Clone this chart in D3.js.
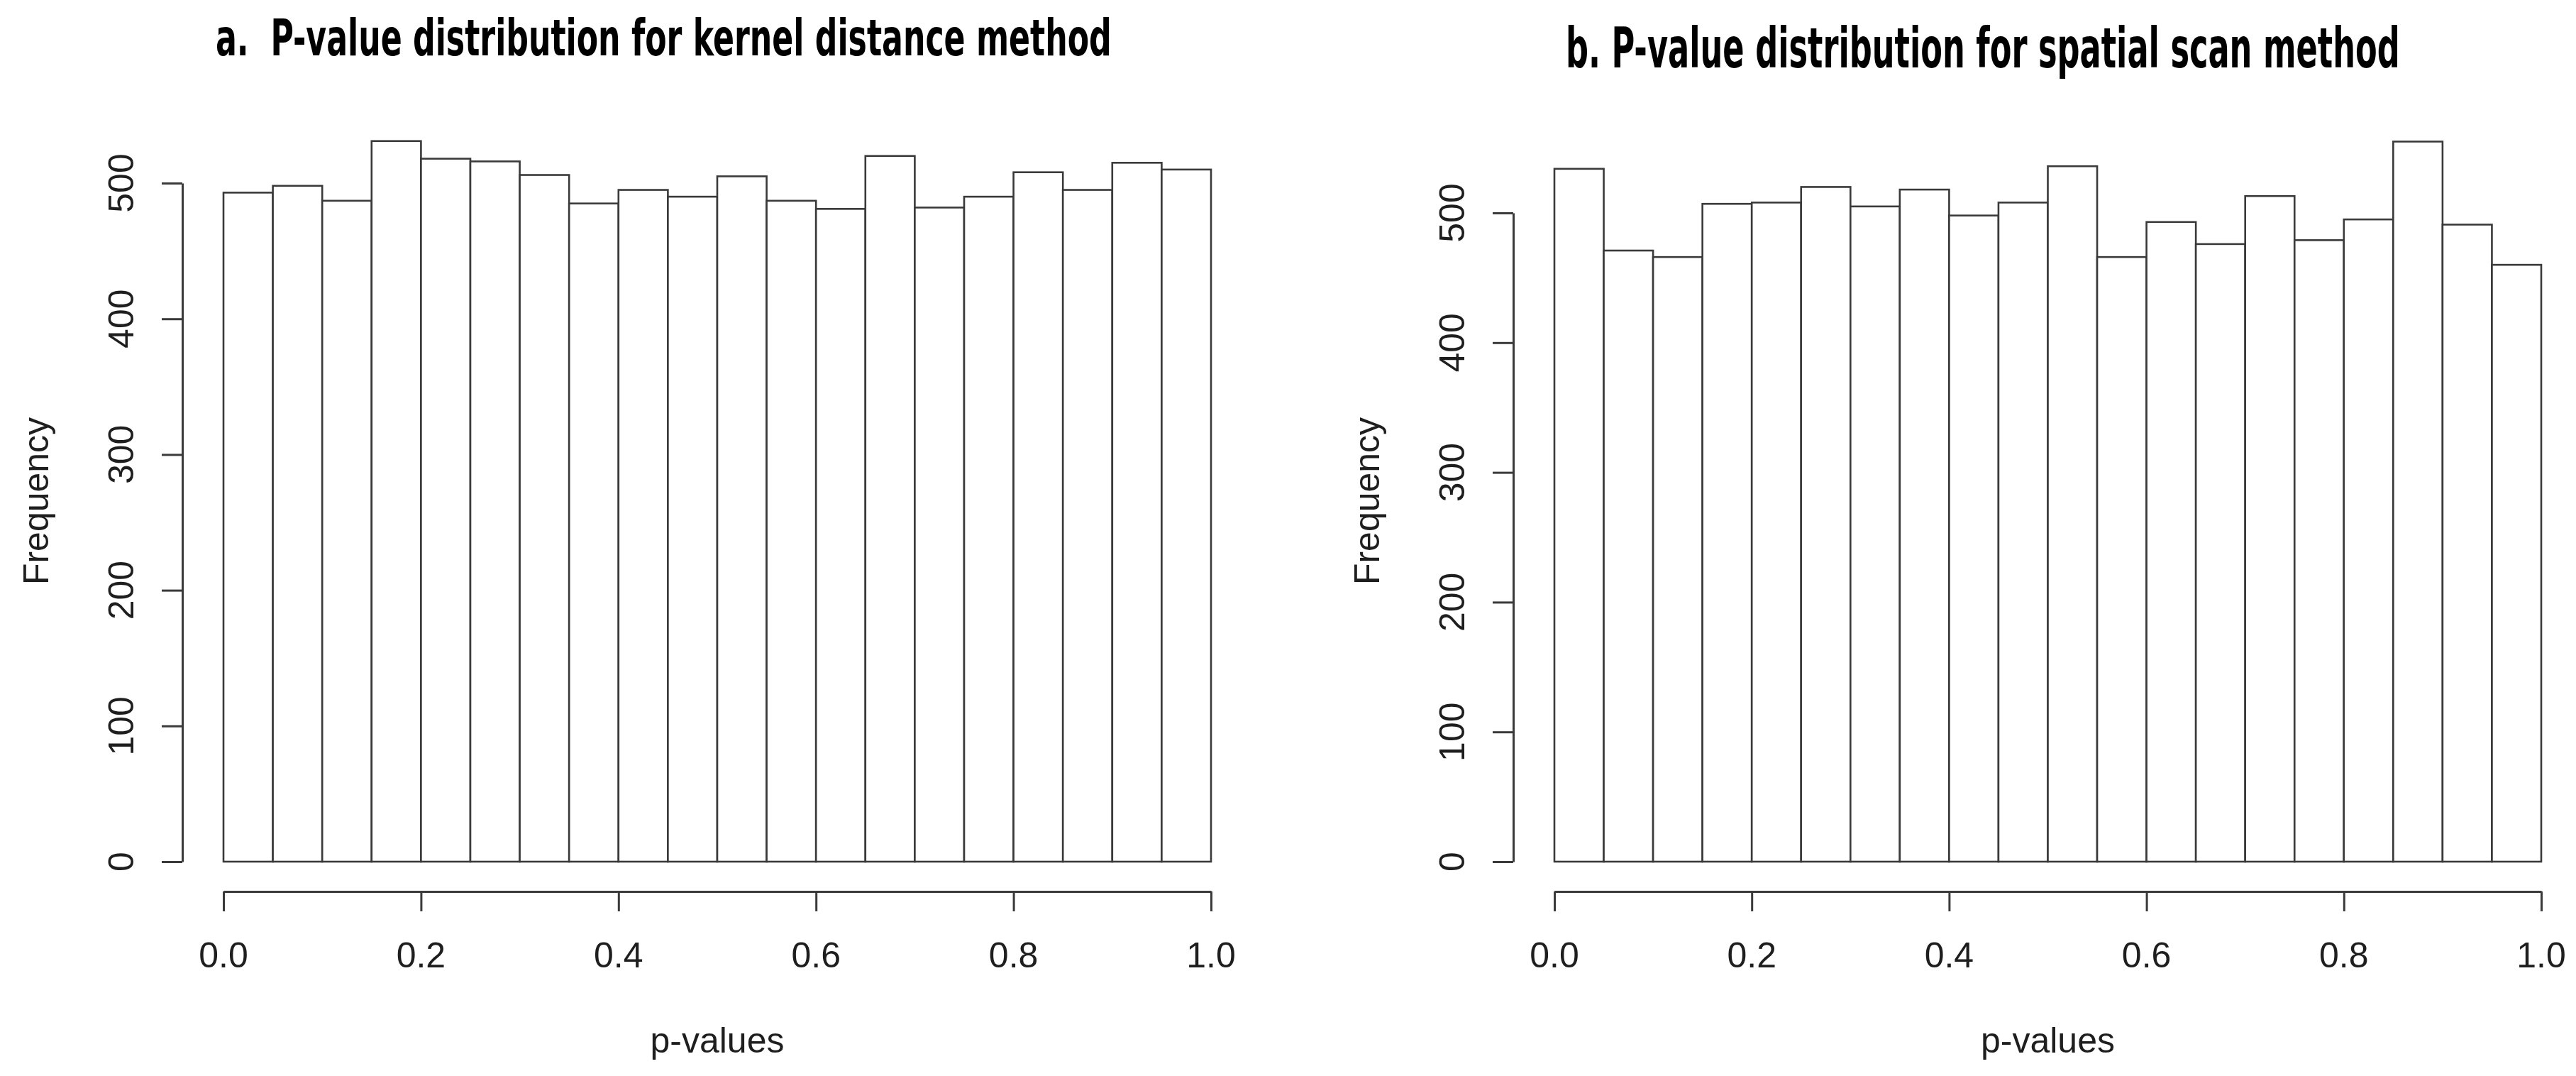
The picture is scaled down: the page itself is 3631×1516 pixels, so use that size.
<!DOCTYPE html>
<html>
<head>
<meta charset="utf-8">
<script src="https://cdn.jsdelivr.net/npm/d3@7"></script>
<style>
  html, body { margin: 0; padding: 0; background: #ffffff; }
  svg { display: block; }
  .title { white-space: pre; }
</style>
</head>
<body>
<svg id="chart" width="3631" height="1516"></svg>
<script>
// ---- data ----
const binEdges = [0.00, 0.05, 0.10, 0.15, 0.20, 0.25, 0.30, 0.35, 0.40, 0.45, 0.50,
                  0.55, 0.60, 0.65, 0.70, 0.75, 0.80, 0.85, 0.90, 0.95, 1.00];
const kernelCounts = [493, 498, 487, 531, 518, 516, 506, 485, 495, 490,
                      505, 487, 481, 520, 482, 490, 508, 495, 515, 510];
const scanCounts   = [534, 471, 466, 507, 508, 520, 505, 518, 498, 508,
                      536, 466, 493, 476, 513, 479, 495, 555, 491, 460];
const xTicks = [0.0, 0.2, 0.4, 0.6, 0.8, 1.0];
const yTicks = [0, 100, 200, 300, 400, 500];
const titleA = "a.  P-value distribution for kernel distance method";
const titleB = "b. P-value distribution for spatial scan method";
const xLabel = "p-values";
const yLabel = "Frequency";

// ---- drawing ----
const svg = d3.select("#chart");
const lineColor = "#3a3a3a";
const textColor = "#1e1e1e";
const font = "'Liberation Sans', Arial, Helvetica, sans-serif";

function panel(opts) {
  const g = svg.append("g");
  const x = d3.scaleLinear().domain([0, 1]).range([opts.x0, opts.x1]);
  const y = d3.scaleLinear().domain([0, 500]).range([opts.yBase, opts.y500]);

  const bars = opts.counts.map((c, i) => ({ lo: binEdges[i], hi: binEdges[i + 1], c }));
  g.append("g").selectAll("rect").data(bars).join("rect")
    .attr("x", d => x(d.lo))
    .attr("y", d => y(d.c))
    .attr("width", d => x(d.hi) - x(d.lo))
    .attr("height", d => y(0) - y(d.c))
    .attr("fill", "#ffffff")
    .attr("stroke", lineColor)
    .attr("stroke-width", 2.6);

  // x axis (detached below, R style)
  const xa = g.append("g")
    .attr("transform", `translate(0,${opts.xAxisY})`)
    .call(d3.axisBottom(x).tickValues(xTicks).tickSize(28).tickSizeOuter(0).tickFormat(""));
  xa.select(".domain").attr("stroke", lineColor).attr("stroke-width", 3);
  xa.selectAll(".tick line").attr("stroke", lineColor).attr("stroke-width", 3);
  g.append("g").selectAll("text").data(xTicks).join("text")
    .attr("x", d => x(d))
    .attr("y", opts.xAxisY + 107)
    .attr("text-anchor", "middle")
    .attr("font-family", font)
    .attr("font-size", 50)
    .attr("fill", textColor)
    .text(d => d3.format(".1f")(d));

  // y axis (detached left)
  const ya = g.append("g")
    .attr("transform", `translate(${opts.yAxisX},0)`)
    .call(d3.axisLeft(y).tickValues(yTicks).tickSize(29).tickSizeOuter(0).tickFormat(""));
  ya.select(".domain").attr("stroke", lineColor).attr("stroke-width", 3);
  ya.selectAll(".tick line").attr("stroke", lineColor).attr("stroke-width", 3);
  g.append("g").selectAll("text").data(yTicks).join("text")
    .attr("transform", d => `translate(${opts.yAxisX - 69},${y(d)}) rotate(-90)`)
    .attr("text-anchor", "middle")
    .attr("font-family", font)
    .attr("font-size", 50)
    .attr("fill", textColor)
    .text(d => d);

  // axis titles
  g.append("text")
    .attr("x", (opts.x0 + opts.x1) / 2)
    .attr("y", 1483)
    .attr("text-anchor", "middle")
    .attr("font-family", font)
    .attr("font-size", 50)
    .attr("fill", textColor)
    .text(xLabel);
  g.append("text")
    .attr("transform", `translate(${opts.yAxisX - 189},706) rotate(-90)`)
    .attr("text-anchor", "middle")
    .attr("font-family", font)
    .attr("font-size", 50)
    .attr("fill", textColor)
    .text(yLabel);

  // panel title: condensed by a horizontal scale so the box fits the target width
  const t = g.append("text")
    .attr("class", "title")
    .attr("x", 0)
    .attr("y", 0)
    .attr("font-family", "'DejaVu Sans Condensed', 'DejaVu Sans', 'Liberation Sans', sans-serif")
    .attr("font-weight", "bold")
    .attr("font-size", opts.tsize)
    .attr("fill", "#000000")
    .text(opts.title);
  const natural = t.node().getComputedTextLength();
  const sx = opts.tlen / natural;
  t.attr("transform", `translate(${opts.tx},${opts.ty}) scale(${sx},1)`);
}

panel({
  counts: kernelCounts, title: titleA,
  x0: 315, x1: 1707, yBase: 1214, y500: 258, xAxisY: 1256, yAxisX: 257,
  tx: 304, ty: 78, tsize: 72, tlen: 1263
});
panel({
  counts: scanCounts, title: titleB,
  x0: 2191, x1: 3582, yBase: 1214, y500: 300, xAxisY: 1256, yAxisX: 2133,
  tx: 2207, ty: 95, tsize: 78, tlen: 1176
});
</script>
</body>
</html>
